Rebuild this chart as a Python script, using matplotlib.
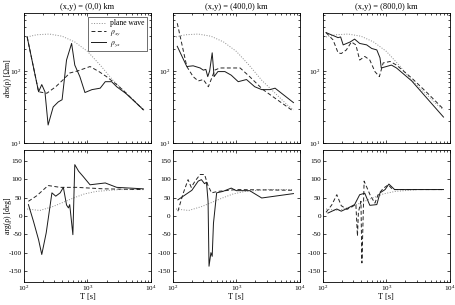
import numpy as np
import matplotlib
matplotlib.use("Agg")
import matplotlib.pyplot as plt
from matplotlib.ticker import LogLocator, NullFormatter, MultipleLocator

plt.rcParams["font.family"] = ["Liberation Serif", "DejaVu Serif"]
plt.rcParams["mathtext.fontset"] = "stix"
plt.rcParams["axes.unicode_minus"] = False

# titulos de columnas
titulos = ["(x,y) = (0,0) km", "(x,y) = (400,0) km", "(x,y) = (800,0) km"]

# onda plana (igual en las tres columnas), log10(T) y log10(rho)
logt_pw_abs = [2.05, 2.2, 2.4, 2.6, 2.8, 3.0, 3.2, 3.4, 3.6, 3.8, 3.9]
logr_pw_abs = [2.47, 2.50, 2.51, 2.48, 2.40, 2.27, 2.08, 1.87, 1.70, 1.53, 1.46]
logt_pw_arg = [2.05, 2.25, 2.46, 2.6, 2.78, 2.95, 3.14, 3.5, 3.9]
fase_pw = [19, 15, 26, 36, 49, 60, 67, 72, 72]

# columna 1: (0,0)
logt_yx_abs_1 = [2.05, 2.23, 2.28, 2.33, 2.38, 2.46, 2.54, 2.60, 2.67, 2.75, 2.80,
                 2.88, 2.96, 3.07, 3.20, 3.28, 3.38, 3.46, 3.60, 3.75, 3.88]
logr_yx_abs_1 = [2.47, 1.71, 1.81, 1.71, 1.25, 1.50, 1.57, 1.60, 2.15, 2.38, 2.08,
                 1.92, 1.70, 1.74, 1.76, 1.85, 1.85, 1.78, 1.69, 1.57, 1.46]
logt_xy_abs_1 = [2.05, 2.23, 2.36, 2.50, 2.62, 2.72, 2.85, 3.04, 3.18, 3.30, 3.46,
                 3.60, 3.75, 3.88]
logr_xy_abs_1 = [2.47, 1.71, 1.69, 1.78, 1.88, 1.97, 2.00, 2.06, 1.99, 1.92, 1.81,
                 1.70, 1.57, 1.46]
logt_yx_arg_1 = [2.07, 2.15, 2.23, 2.28, 2.35, 2.44, 2.50, 2.57, 2.62, 2.67, 2.70,
                 2.72, 2.77, 2.80, 2.86, 2.93, 3.04, 3.28, 3.46, 3.88]
fase_yx_1 = [31, -15, -65, -105, -46, 63, 54, 63, 78, 30, 22,
             31, -51, 140, 122, 108, 85, 90, 78, 74]
logt_xy_arg_1 = [2.07, 2.20, 2.38, 2.57, 2.83, 3.25, 3.88]
fase_xy_1 = [40, 55, 83, 78, 78, 74, 72]

# columna 2: (400,0)
logt_yx_abs_2 = [2.07, 2.22, 2.32, 2.43, 2.48, 2.52, 2.55, 2.58, 2.62, 2.65, 2.71,
                 2.82, 2.92, 3.03, 3.16, 3.29, 3.40, 3.53, 3.61, 3.90]
logr_yx_abs_2 = [2.34, 2.06, 2.07, 2.04, 2.01, 2.02, 1.92, 2.00, 2.25, 1.92, 1.99,
                 1.99, 1.94, 1.85, 1.88, 1.78, 1.74, 1.74, 1.76, 1.56]
logt_xy_abs_2 = [2.07, 2.22, 2.32, 2.40, 2.48, 2.56, 2.66, 2.74, 3.06, 3.21, 3.42,
                 3.58, 3.90]
logr_xy_abs_2 = [2.66, 2.06, 1.92, 1.86, 1.88, 1.78, 2.01, 2.04, 2.04, 1.92, 1.74,
                 1.64, 1.44]
logt_yx_arg_2 = [2.08, 2.30, 2.40, 2.45, 2.50, 2.53, 2.555, 2.57, 2.60, 2.62, 2.64,
                 2.69, 2.79, 2.92, 3.00, 3.21, 3.40, 3.90]
fase_yx_2 = [44, 70, 95, 99, 88, 92, 40, -137, -100, -110, -20,
             63, 67, 76, 69, 69, 49, 61]
logt_xy_arg_2 = [2.08, 2.16, 2.24, 2.29, 2.35, 2.43, 2.50, 2.55, 2.61, 2.71, 3.00, 3.90]
fase_xy_2 = [13, 60, 99, 78, 95, 113, 113, 85, 63, 67, 72, 70]

# columna 3: (800,0)
logt_yx_abs_3 = [2.05, 2.16, 2.24, 2.28, 2.32, 2.43, 2.50, 2.58, 2.69, 2.77, 2.85,
                 2.90, 2.92, 3.00, 3.08, 3.16, 3.40, 3.65, 3.90]
logr_yx_abs_3 = [2.53, 2.49, 2.46, 2.47, 2.36, 2.40, 2.44, 2.38, 2.36, 2.31, 2.29,
                 2.18, 2.04, 2.06, 2.08, 2.04, 1.86, 1.61, 1.36]
logt_xy_abs_3 = [2.05, 2.16, 2.24, 2.29, 2.37, 2.45, 2.52, 2.58, 2.66, 2.74, 2.82,
                 2.89, 2.95, 3.06, 3.16, 3.40, 3.65, 3.90]
logr_xy_abs_3 = [2.53, 2.43, 2.25, 2.24, 2.29, 2.40, 2.36, 2.15, 2.20, 2.15, 1.99,
                 1.92, 2.11, 2.13, 2.08, 1.90, 1.69, 1.47]
logt_yx_arg_3 = [2.08, 2.22, 2.29, 2.40, 2.50, 2.58, 2.66, 2.74, 2.85, 2.90, 2.98,
                 3.04, 3.13, 3.90]
fase_yx_3 = [8, 19, 13, 22, 31, 58, 62, 29, 31, 63, 72, 87, 72, 72]
logt_xy_arg_3 = [2.05, 2.14, 2.22, 2.29, 2.38, 2.46, 2.52, 2.545, 2.56, 2.60, 2.615,
                 2.65, 2.70, 2.75, 2.82, 2.87, 2.95, 3.03, 3.10, 3.90]
fase_xy_3 = [10, 30, 58, 28, 18, 25, 32, -55, 10, 40, -128,
             95, 75, 55, 35, 58, 75, 85, 72, 72]

abs_yx = [(logt_yx_abs_1, logr_yx_abs_1), (logt_yx_abs_2, logr_yx_abs_2), (logt_yx_abs_3, logr_yx_abs_3)]
abs_xy = [(logt_xy_abs_1, logr_xy_abs_1), (logt_xy_abs_2, logr_xy_abs_2), (logt_xy_abs_3, logr_xy_abs_3)]
arg_yx = [(logt_yx_arg_1, fase_yx_1), (logt_yx_arg_2, fase_yx_2), (logt_yx_arg_3, fase_yx_3)]
arg_xy = [(logt_xy_arg_1, fase_xy_1), (logt_xy_arg_2, fase_xy_2), (logt_xy_arg_3, fase_xy_3)]

fig = plt.figure(figsize=(4.56, 3.05), dpi=100)
lefts = [0.0526, 0.379, 0.708]
ancho = 0.2785

fs = 6
fs_tick = 5.2
lw = 0.7


def estilo(ax):
    ax.set_xscale("log")
    ax.set_xlim(1e2, 1e4)
    ax.tick_params(which="both", direction="in", top=True, right=True,
                   labelsize=fs_tick, width=0.5, pad=1.5)
    ax.tick_params(which="major", length=2.5)
    ax.tick_params(which="minor", length=1.5)
    for s in ax.spines.values():
        s.set_linewidth(0.6)


for i in range(3):
    # amplitud
    ax = fig.add_axes([lefts[i], 0.531, ancho, 0.426])
    estilo(ax)
    ax.set_yscale("log")
    ax.plot(10 ** np.array(logt_pw_abs), 10 ** np.array(logr_pw_abs), ":", color="0.55",
            lw=lw, label="plane wave")
    t, r = abs_xy[i]
    ax.plot(10 ** np.array(t), 10 ** np.array(r), "--", color="0.15", lw=lw,
            dashes=(4, 2.5), label=r"$\rho_{xy}$")
    t, r = abs_yx[i]
    ax.plot(10 ** np.array(t), 10 ** np.array(r), "-", color="0.1", lw=lw,
            label=r"$\rho_{yx}$")
    ax.set_ylim(10, 10 ** 2.8)
    ax.yaxis.set_major_locator(LogLocator(base=10))
    ax.xaxis.set_major_formatter(NullFormatter())
    ax.xaxis.set_minor_formatter(NullFormatter())
    ax.yaxis.set_minor_formatter(NullFormatter())
    ax.set_title(titulos[i], fontsize=fs, pad=3)
    if i == 0:
        ax.set_ylabel("abs(ρ) [Ωm]", fontsize=5.5)
        ax.yaxis.set_label_coords(-0.098, 0.5)
        leg = ax.legend(loc="upper right", fontsize=fs - 0.5, frameon=True,
                        fancybox=False, edgecolor="black", handlelength=2.0,
                        borderpad=0.3, labelspacing=0.1, borderaxespad=0.5,
                        handletextpad=0.6)
        leg.get_frame().set_linewidth(0.5)

    # fase
    ax2 = fig.add_axes([lefts[i], 0.0754, ancho, 0.433])
    estilo(ax2)
    ax2.plot(10 ** np.array(logt_pw_arg), fase_pw, ":", color="0.55", lw=lw)
    t, f = arg_xy[i]
    ax2.plot(10 ** np.array(t), f, "--", color="0.15", lw=lw, dashes=(4, 2.5))
    t, f = arg_yx[i]
    ax2.plot(10 ** np.array(t), f, "-", color="0.1", lw=lw)
    ax2.set_ylim(-180, 180)
    ax2.yaxis.set_major_locator(MultipleLocator(50))
    ax2.xaxis.set_minor_formatter(NullFormatter())
    ax2.set_xlabel("T [s]", fontsize=fs, labelpad=0)
    if i == 0:
        ax2.set_ylabel("arg(ρ) [deg]", fontsize=5.5)
        ax2.yaxis.set_label_coords(-0.098, 0.5)

fig.savefig("out.png", dpi=100)
